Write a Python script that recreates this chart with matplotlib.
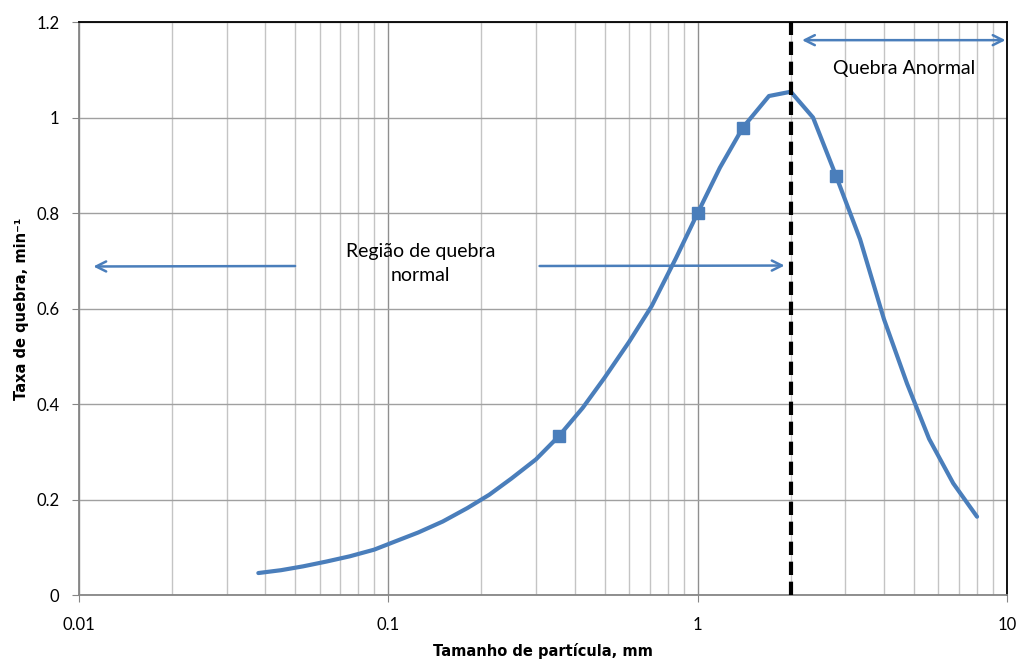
import numpy as np
import matplotlib.pyplot as plt
from matplotlib.ticker import FixedLocator, NullFormatter

plt.rcParams['font.family'] = ['Lato', 'DejaVu Sans']

# particle size (mm) and breakage rate (1/min)
size_mm = [0.038, 0.045, 0.053, 0.063, 0.075, 0.09, 0.106, 0.125, 0.15, 0.18,
           0.212, 0.25, 0.3, 0.355, 0.425, 0.5, 0.6, 0.71, 0.85, 1.0,
           1.18, 1.4, 1.7, 2.0, 2.36, 2.8, 3.35, 4.0, 4.75, 5.6, 6.7, 8.0]
rate = [0.046, 0.052, 0.060, 0.070, 0.081, 0.095, 0.113, 0.131, 0.154, 0.182,
        0.210, 0.244, 0.284, 0.332, 0.392, 0.455, 0.530, 0.605, 0.705, 0.800,
        0.895, 0.979, 1.045, 1.054, 1.000, 0.878, 0.745, 0.578, 0.443, 0.327, 0.234, 0.164]

# measured points (square markers)
meas_size = [0.355, 1.0, 1.4, 2.8]
meas_rate = [0.332, 0.800, 0.979, 0.878]

boundary = 2.0  # limit between normal and abnormal breakage
x_ticks = [0.01, 0.1, 1, 10]
x_labels = ['0.01', '0.1', '1', '10']
y_ticks = [0, 0.2, 0.4, 0.6, 0.8, 1.0, 1.2]
y_labels = ['0', '0.2', '0.4', '0.6', '0.8', '1', '1.2']

blue = '#4a7ebb'

fig = plt.figure(figsize=(10.18, 6.59), dpi=100)
ax = fig.add_axes([0.0776, 0.0971, 0.9116, 0.8695])

ax.set_xscale('log')
ax.set_xlim(0.01, 10)
ax.set_ylim(0, 1.2)

# grid
minor = [m * d for d in [0.01, 0.1, 1] for m in range(2, 10)]
ax.xaxis.set_minor_locator(FixedLocator(minor))
ax.xaxis.set_minor_formatter(NullFormatter())
ax.grid(which='minor', axis='x', color='#c4c4c4', linewidth=1)
ax.grid(which='major', axis='x', color='#8f8f8f', linewidth=1)
ax.grid(which='major', axis='y', color='#a0a0a0', linewidth=1)
ax.set_axisbelow(True)

ax.plot(size_mm, rate, color=blue, linewidth=3, solid_joinstyle='round',
        solid_capstyle='round', zorder=3)
ax.plot(meas_size, meas_rate, linestyle='none', marker='s', markersize=8,
        color=blue, zorder=4)

ax.axvline(boundary, color='black', linewidth=3, dashes=(3.2, 1.6), zorder=5)

arrow = dict(arrowstyle='->', color=blue, lw=1.8, mutation_scale=18)
ax.annotate('', xy=(0.0109, 0.688), xytext=(0.051, 0.689), arrowprops=arrow)
ax.annotate('', xy=(1.95, 0.690), xytext=(0.302, 0.689), arrowprops=arrow)
ax.annotate('', xy=(10.1, 1.162), xytext=(2.13, 1.162),
            arrowprops=dict(arrowstyle='<->', color=blue, lw=1.8, mutation_scale=18),
            annotation_clip=False)

ax.text(0.127, 0.694, 'Região de quebra\nnormal', ha='center', va='center',
        fontsize=14, linespacing=1.45)
ax.text(4.65, 1.103, 'Quebra Anormal', ha='center', va='center', fontsize=14)

ax.set_xticks(x_ticks)
ax.set_xticklabels(x_labels)
ax.set_yticks(y_ticks)
ax.set_yticklabels(y_labels)
ax.tick_params(axis='both', which='major', labelsize=12, length=5,
               color='#868686', direction='out')
ax.tick_params(axis='x', which='minor', length=0)
ax.tick_params(axis='x', pad=11)
ax.tick_params(axis='y', pad=9)

for s in ['left', 'bottom']:
    ax.spines[s].set_color('#868686')
    ax.spines[s].set_linewidth(1.3)
for s in ['top', 'right']:
    ax.spines[s].set_color('black')
    ax.spines[s].set_linewidth(1.3)

ax.set_xlabel('Tamanho de partícula, mm', fontsize=10.5, fontweight='bold',
              family='DejaVu Sans', labelpad=7)
ax.set_ylabel('Taxa de quebra, min⁻¹', fontsize=10.5, fontweight='bold',
              family='DejaVu Sans', labelpad=5)

fig.savefig('out.png', dpi=100)
